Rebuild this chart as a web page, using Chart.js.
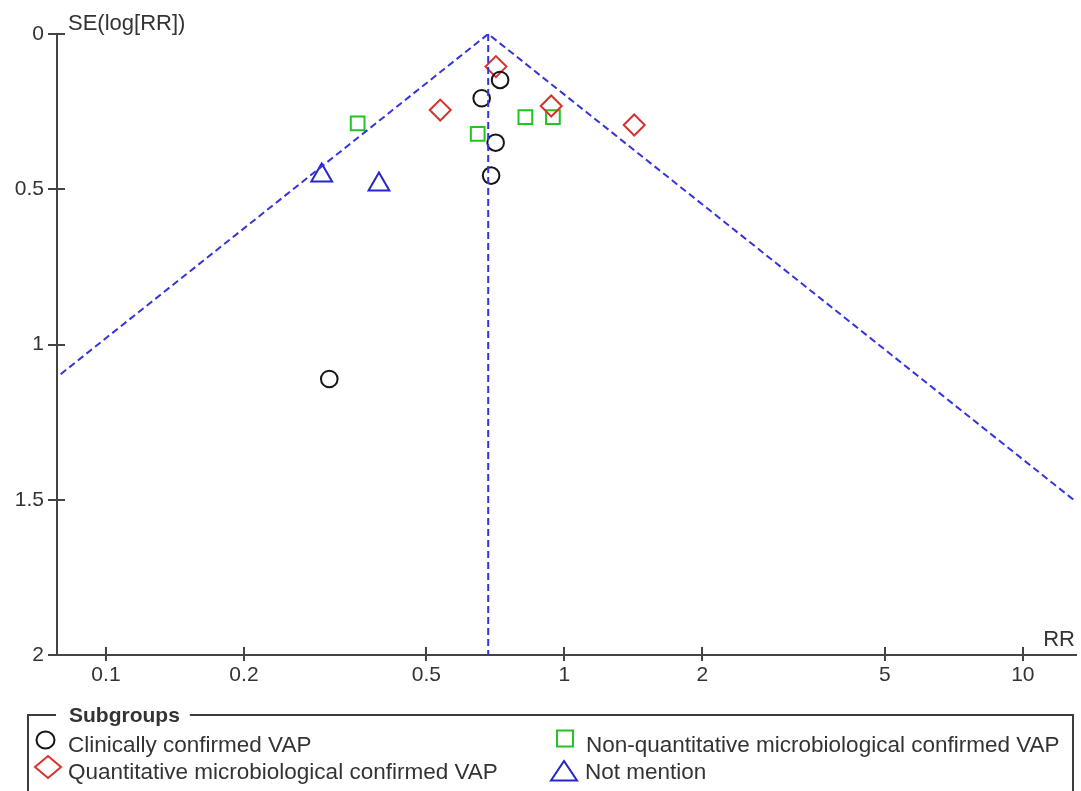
<!DOCTYPE html>
<html>
<head>
<meta charset="utf-8">
<title>Funnel plot</title>
<script src="https://cdn.jsdelivr.net/npm/chart.js@4/dist/chart.umd.min.js"></script>
<style>
  html, body { margin: 0; padding: 0; background: #fff; }
  #wrap { position: relative; width: 1081px; height: 791px; overflow: hidden; }
  #plot { position: absolute; left: 0; top: 0; }
  #key { position: absolute; left: 0; top: 0; pointer-events: none; }
</style>
</head>
<body>
<div id="wrap">
  <canvas id="plot" width="1081" height="791"></canvas>
  <svg id="key" width="1081" height="791" xmlns="http://www.w3.org/2000/svg"></svg>
</div>
<script>
// Subgroup names, in legend order
const subgroupNames = [
  'Clinically confirmed VAP',
  'Quantitative microbiological confirmed VAP',
  'Non-quantitative microbiological confirmed VAP',
  'Not mention'
];

// Study estimates: risk ratio and standard error of log(RR)
const clinicalRR    = [0.660, 0.724, 0.708, 0.692, 0.307];
const clinicalSE    = [0.207, 0.148, 0.350, 0.456, 1.111];
const quantRR       = [0.709, 0.536, 0.936, 1.420];
const quantSE       = [0.105, 0.245, 0.232, 0.293];
const nonQuantRR    = [0.354, 0.647, 0.822, 0.944];
const nonQuantSE    = [0.288, 0.322, 0.268, 0.268];
const notMentionRR  = [0.2955, 0.394];
const notMentionSE  = [0.456, 0.485];

// Pooled estimate (centre of the funnel)
const pooledRR = 0.682;

// Axes
const xTickValues = [0.1, 0.2, 0.5, 1, 2, 5, 10];
const yTickValues = [0, 0.5, 1, 1.5, 2];
const xRange = [0.0782, 13.06];
const yRange = [0, 2];
const xAxisTitle = 'RR';
const yAxisTitle = 'SE(log[RR])';
const legendTitle = 'Subgroups';

// ---- styling ----
const FONT = '"Liberation Sans", Arial, Helvetica, sans-serif';
const AXIS = '#444';
const TEXT = '#333';
const FUNNEL = '#3434dc';
const groupStyles = [
  { color: '#151515', shape: 'circle',   radius: 8.3 },
  { color: '#d93030', shape: 'rectRot',  radius: 10.5 },
  { color: '#22c422', shape: 'rect',     radius: 9.7 },
  { color: '#2626c8', shape: 'triangle', radius: 12 }
];
const groupData = [
  [clinicalRR, clinicalSE],
  [quantRR, quantSE],
  [nonQuantRR, nonQuantSE],
  [notMentionRR, notMentionSE]
];

const toPoints = (rr, se) => rr.map((v, i) => ({ x: v, y: se[i] }));

const studyDatasets = groupData.map(([rr, se], g) => ({
  label: subgroupNames[g],
  data: toPoints(rr, se),
  pointStyle: groupStyles[g].shape,
  pointRadius: groupStyles[g].radius,
  borderColor: groupStyles[g].color,
  backgroundColor: 'rgba(0,0,0,0)',
  borderWidth: 2,
  order: 2
}));

// 95% pseudo-confidence limits: log(RR) = log(pooled) ± 1.96·SE
const z = 1.96;
const seMax = yRange[1];
const funnelDatasets = [
  {
    label: 'limits',
    data: [
      { x: pooledRR * Math.exp(-z * seMax), y: seMax },
      { x: pooledRR, y: 0 },
      { x: pooledRR * Math.exp(z * seMax), y: seMax }
    ]
  },
  {
    label: 'pooled',
    data: [ { x: pooledRR, y: 0 }, { x: pooledRR, y: seMax } ]
  }
].map(d => Object.assign(d, {
  showLine: true,
  pointRadius: 0,
  borderColor: FUNNEL,
  borderWidth: 2,
  borderDash: [7, 4],
  fill: false,
  tension: 0,
  order: 1
}));

// Inner halves of the tick marks plus the two axis captions
const axisDecor = {
  id: 'axisDecor',
  afterDraw(chart) {
    const { ctx, chartArea: a, scales: { x, y } } = chart;
    ctx.save();
    ctx.strokeStyle = AXIS;
    ctx.lineWidth = 2;
    ctx.beginPath();
    xTickValues.forEach(v => {
      const px = Math.round(x.getPixelForValue(v));
      ctx.moveTo(px, a.bottom);
      ctx.lineTo(px, a.bottom - 8);
    });
    yTickValues.forEach(v => {
      const py = Math.round(y.getPixelForValue(v));
      ctx.moveTo(a.left, py);
      ctx.lineTo(a.left + 8, py);
    });
    ctx.stroke();
    ctx.fillStyle = TEXT;
    ctx.font = '22px ' + FONT;
    ctx.textBaseline = 'alphabetic';
    ctx.textAlign = 'left';
    ctx.fillText(yAxisTitle, a.left + 11, 30);
    ctx.textAlign = 'right';
    ctx.fillText(xAxisTitle, a.right - 1, a.bottom - 9);
    ctx.restore();
  }
};

const tickFont = { family: FONT, size: 21 };

new Chart(document.getElementById('plot'), {
  type: 'scatter',
  data: { datasets: [...funnelDatasets, ...studyDatasets] },
  options: {
    responsive: false,
    devicePixelRatio: 1,
    animation: false,
    events: [],
    layout: { autoPadding: false, padding: { top: 34, right: 5, left: 0, bottom: 0 } },
    plugins: { legend: { display: false }, tooltip: { enabled: false } },
    scales: {
      x: {
        type: 'logarithmic',
        min: xRange[0],
        max: xRange[1],
        afterBuildTicks: s => { s.ticks = xTickValues.map(v => ({ value: v })); },
        afterFit: s => { s.height = 136; },
        ticks: {
          autoSkip: false,
          maxRotation: 0,
          color: TEXT,
          font: tickFont,
          padding: 2,
          callback: v => String(v)
        },
        grid: { drawOnChartArea: false, drawTicks: true, tickLength: 6, color: AXIS, lineWidth: 2 },
        border: { display: true, color: AXIS, width: 2 }
      },
      y: {
        type: 'linear',
        reverse: true,
        min: yRange[0],
        max: yRange[1],
        afterBuildTicks: s => { s.ticks = yTickValues.map(v => ({ value: v })); },
        afterFit: s => { s.width = 57; },
        ticks: {
          color: TEXT,
          font: tickFont,
          padding: 4,
          callback: v => String(v)
        },
        grid: { drawOnChartArea: false, drawTicks: true, tickLength: 9, color: AXIS, lineWidth: 2 },
        border: { display: true, color: AXIS, width: 2 }
      }
    }
  },
  plugins: [axisDecor]
});

// ---- legend box ----
const NS = 'http://www.w3.org/2000/svg';
const svg = document.getElementById('key');
function el(name, attrs, text) {
  const e = document.createElementNS(NS, name);
  for (const k in attrs) e.setAttribute(k, attrs[k]);
  if (text !== undefined) e.textContent = text;
  svg.appendChild(e);
  return e;
}

const boxLeft = 28, boxTop = 715, boxRight = 1073, boxBottom = 820;
const title = el('text', {
  x: 69, y: 722, 'font-family': FONT, 'font-size': 21, 'font-weight': 'bold', fill: TEXT
}, legendTitle);
const titleEnd = 69 + title.getComputedTextLength();
el('path', {
  d: `M${boxLeft} ${boxBottom} L${boxLeft} ${boxTop} L56 ${boxTop} M${titleEnd + 10} ${boxTop} L${boxRight} ${boxTop} L${boxRight} ${boxBottom}`,
  fill: 'none', stroke: '#3c3c3c', 'stroke-width': 2
});

// legend slots: [marker centre x, centre y, text x, baseline y]
const slots = [
  [45.5, 740, 68, 752],
  [48, 767, 68, 779],
  [565, 738.5, 586, 752],
  [564, 771, 585, 779]
];
function legendMarker(shape, cx, cy, color) {
  const common = { fill: 'none', stroke: color, 'stroke-width': 2 };
  if (shape === 'circle') return el('ellipse', Object.assign({ cx, cy, rx: 9, ry: 8.5 }, common));
  if (shape === 'rectRot') return el('polygon', Object.assign({
    points: `${cx - 13},${cy} ${cx},${cy - 11} ${cx + 13},${cy} ${cx},${cy + 11}`
  }, common));
  if (shape === 'rect') return el('rect', Object.assign({ x: cx - 8, y: cy - 8, width: 16, height: 16 }, common));
  return el('polygon', Object.assign({
    points: `${cx},${cy - 10} ${cx - 13},${cy + 9.5} ${cx + 13},${cy + 9.5}`
  }, common));
}
subgroupNames.forEach((name, g) => {
  const [mx, my, tx, ty] = slots[g];
  legendMarker(groupStyles[g].shape, mx, my, groupStyles[g].color);
  el('text', { x: tx, y: ty, 'font-family': FONT, 'font-size': 22.5, fill: TEXT }, name);
});
</script>
</body>
</html>
